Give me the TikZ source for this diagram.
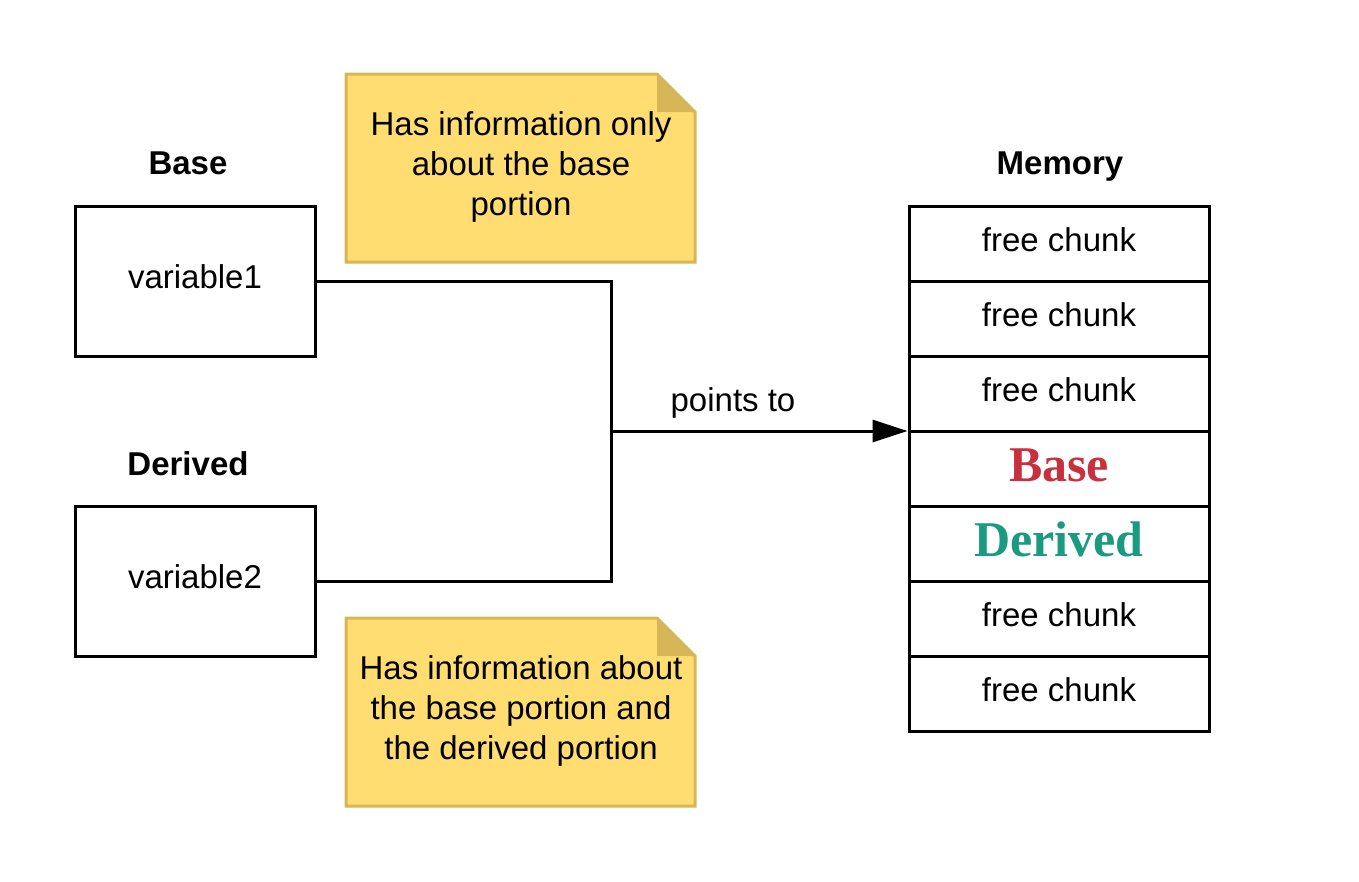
\documentclass[tikz,border=0pt]{standalone}
\usepackage{fontspec}
\setmainfont{Liberation Sans}
\newfontfamily\serifbold{Liberation Serif}
\usetikzlibrary{arrows.meta}
\definecolor{notefill}{HTML}{FFDD71}
\definecolor{noteedge}{HTML}{D6B656}
\definecolor{basered}{HTML}{C9303E}
\definecolor{derivedteal}{HTML}{1A9A7E}
\tikzset{
  x=1pt,y=-1pt,
  txt/.style={font=\fontsize{33}{40}\selectfont, inner sep=0pt, align=center},
  plain/.style={font=\fontsize{33}{40}\selectfont, inner sep=0pt, text height=24pt, text depth=9pt},
  bold/.style={font=\fontsize{33}{40}\selectfont\bfseries, inner sep=0pt, text height=24pt, text depth=9pt},
  varbox/.style={draw=black, line width=3pt, fill=white, minimum width=240pt, minimum height=150pt, inner sep=0pt, font=\fontsize{33}{40}\selectfont, text height=24pt, text depth=9pt},
  cell/.style={draw=black, line width=3pt, fill=white, minimum width=300pt, minimum height=75pt, inner sep=0pt, font=\fontsize{33}{40}\selectfont, text height=24pt, text depth=9pt},
  bigcell/.style={cell, font=\serifbold\fontsize{50}{52}\selectfont\bfseries, text height=33pt, text depth=8pt},
  wire/.style={line width=3pt, line join=miter},
}
\begin{document}
\begin{tikzpicture}
\useasboundingbox (0,0) rectangle (1359,881);
% labels
\node[bold] (lbase) at (188,166.5) {Base};
\node[bold] (lderived) at (188,467.5) {Derived};
\node[bold] (lmem) at (1060,166.5) {Memory};
% variable boxes
\node[varbox] (v1) at (195,281) {variable1};
\node[varbox] (v2) at (195,581) {variable2};
% memory cells
\node[cell] (m1) at (1059,243.5) {free chunk};
\node[cell] (m2) at (1059,318.5) {free chunk};
\node[cell] (m3) at (1059,393.5) {free chunk};
\node[bigcell, text=basered] (m4) at (1059,468.5) {Base};
\node[bigcell, text=derivedteal] (m5) at (1059,543.5) {Derived};
\node[cell] (m6) at (1059,618.5) {free chunk};
\node[cell] (m7) at (1059,693.5) {free chunk};
% notes
\foreach \name/\yy in {n1/74, n2/618} {
  \fill[notefill] (346,\yy) -- (657,\yy) -- (695,\yy+38) -- (695,\yy+188) -- (346,\yy+188) -- cycle;
  \fill[noteedge] (657,\yy) -- (695,\yy+38) -- (657,\yy+38) -- cycle;
  \draw[noteedge, line width=3pt, line join=miter] (346,\yy) -- (657,\yy) -- (695,\yy+38) -- (695,\yy+188) -- (346,\yy+188) -- cycle;
}
\node[txt] (t1) at (521,167) {Has information only\\about the base\\portion};
\node[txt] (t2) at (521,711) {Has information about\\the base portion and\\the derived portion};
% connectors
\coordinate (j) at (611,431);
\draw[wire] (v1.east) -| (j);
\draw[wire] (v2.east) -| (j);
\draw[wire, -{Triangle[length=35pt,width=22pt]}] (j) -- (j -| m4.west);
\node[plain] (pt) at (733,404) {points to};
\end{tikzpicture}
\end{document}
